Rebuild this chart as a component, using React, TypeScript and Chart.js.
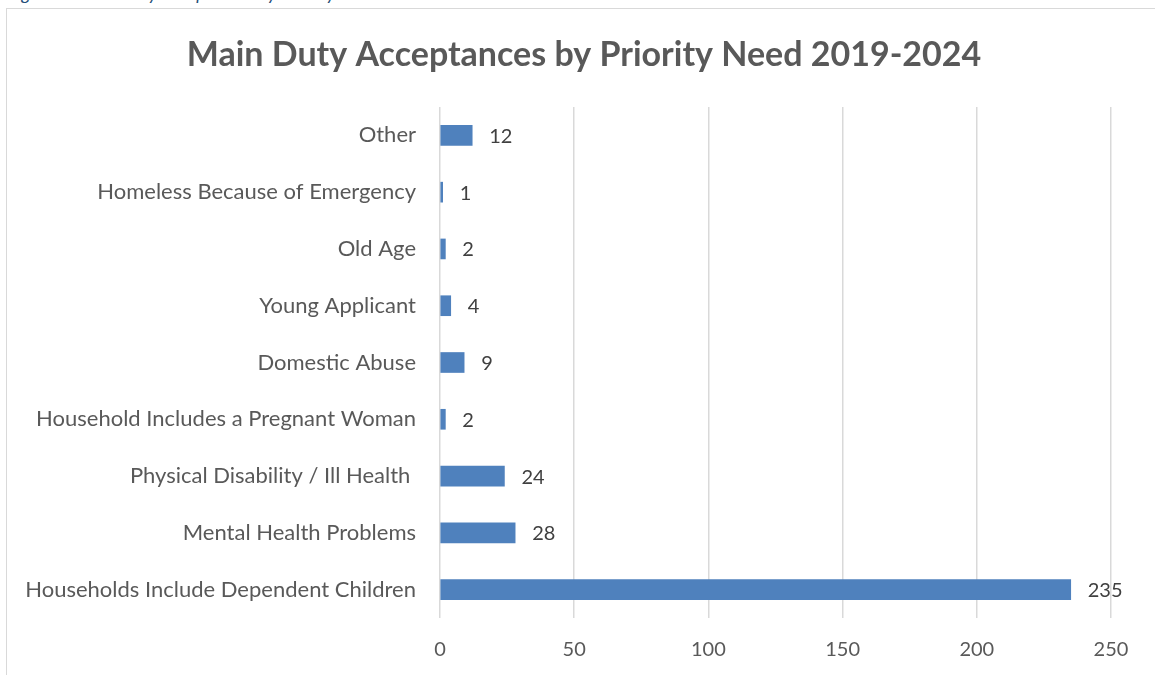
import React, { useEffect, useRef } from "react";
import { Chart, registerables } from "chart.js";

Chart.register(...registerables);

const categories = [
  "Other",
  "Homeless Because of Emergency",
  "Old Age",
  "Young Applicant",
  "Domestic Abuse",
  "Household Includes a Pregnant Woman",
  "Physical Disability / Ill Health ",
  "Mental Health Problems",
  "Households Include Dependent Children",
];
const values = [12, 1, 2, 4, 9, 2, 24, 28, 235];
const xTicks = [0, 50, 100, 150, 200, 250];
const titleText = "Main Duty Acceptances by Priority Need 2019-2024";
const captionText = "Figure 5: Main Duty Acceptances by Priority Need";

const FONT = "Lato, 'Open Sans', sans-serif";

const dataLabels = {
  id: "dataLabels",
  afterDatasetsDraw(chart: any) {
    const ctx = chart.ctx;
    const meta = chart.getDatasetMeta(0);
    ctx.save();
    ctx.font = `20px ${FONT}`;
    ctx.fillStyle = "#404040";
    ctx.textAlign = "left";
    ctx.textBaseline = "middle";
    meta.data.forEach((bar: any, i: number) => {
      ctx.fillText(String(values[i]), bar.x + 17, bar.y + 1);
    });
    ctx.restore();
  },
};

const boxTitle = {
  id: "boxTitle",
  afterDraw(chart: any) {
    const ctx = chart.ctx;
    ctx.save();
    ctx.font = `bold 34px ${FONT}`;
    ctx.fillStyle = "#595959";
    ctx.textAlign = "center";
    ctx.textBaseline = "middle";
    ctx.fillText(titleText, 584, 55);
    ctx.restore();
  },
};

export default function App() {
  const ref = useRef<HTMLCanvasElement>(null);
  useEffect(() => {
    if (!ref.current) return;
    const chart = new Chart(ref.current, {
      type: "bar",
      data: {
        labels: categories,
        datasets: [
          {
            data: values,
            backgroundColor: "#4f81bd",
            borderWidth: 0,
            barThickness: 20,
          },
        ],
      },
      options: {
        indexAxis: "y",
        animation: false,
        responsive: false,
        maintainAspectRatio: false,
        layout: { padding: { left: 0, right: 44, top: 107, bottom: 0 } },
        plugins: {
          legend: { display: false },
          tooltip: { enabled: false },
          title: { display: false },
        },
        scales: {
          x: {
            min: 0,
            max: 250,
            afterBuildTicks(scale: any) {
              scale.ticks = xTicks.map((v) => ({ value: v }));
            },
            afterFit(scale: any) {
              scale.height = 57;
            },
            grid: { color: "#d9d9d9", lineWidth: 1.5, drawTicks: false },
            border: { display: false },
            ticks: {
              color: "#595959",
              font: { family: FONT, size: 20 },
              padding: 20,
            },
          },
          y: {
            afterFit(scale: any) {
              scale.width = 440;
            },
            grid: { display: false, drawTicks: false },
            border: { display: false },
            ticks: {
              color: "#595959",
              font: { family: FONT, size: 22 },
              padding: 24,
            },
          },
        },
      },
      plugins: [dataLabels, boxTitle],
    });
    return () => chart.destroy();
  }, []);

  return (
    <div style={{ position: "fixed", left: 0, top: 0, width: 1155, height: 675, background: "#fff", overflow: "hidden" }}>
      <div
        style={{
          position: "absolute",
          left: 8,
          top: -17,
          fontFamily: FONT,
          fontStyle: "italic",
          fontSize: 18,
          color: "#1f4e79",
          whiteSpace: "nowrap",
          lineHeight: "20px",
        }}
      >
        {captionText}
      </div>
      <div
        style={{
          position: "absolute",
          left: 6,
          top: 8,
          width: 1200,
          height: 700,
          border: "1.5px solid #d9d9d9",
          boxSizing: "border-box",
        }}
      />
      <canvas ref={ref} width={1155} height={675} style={{ position: "absolute", left: 0, top: 0 }} />
    </div>
  );
}
